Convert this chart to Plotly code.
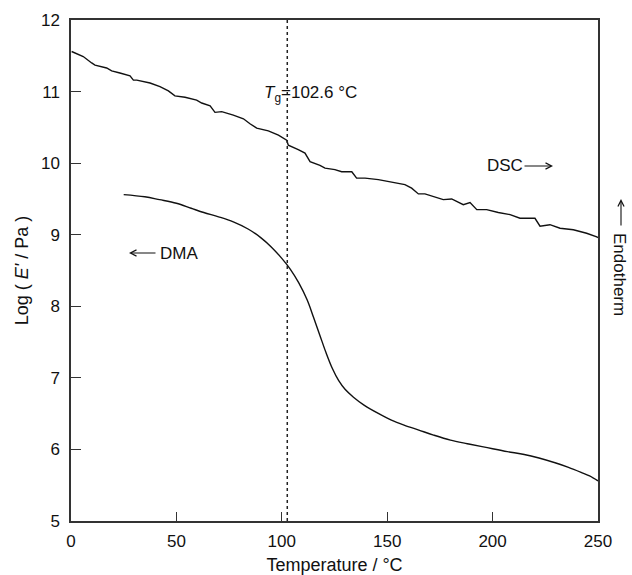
import plotly.graph_objects as go

# DSC trace (temperature in °C, signal plotted on the same vertical scale)
dsc_T = [0.3, 5.8, 9.8, 11.4, 16.9, 19.3, 23.2, 28.0, 29.6, 31.2, 37.5, 42.2, 46.2, 49.3,
         54.1, 59.6, 62.0, 66.0, 68.3, 71.5, 77.0, 81.8, 84.9, 88.1, 93.6, 98.4, 102.3,
         103.1, 107.8, 111.0, 113.4, 118.1, 120.5, 125.2, 128.4, 133.2, 135.5, 139.5,
         145.8, 152.1, 158.4, 161.6, 164.8, 167.9, 171.9, 176.6, 180.6, 186.1, 189.3,
         192.5, 197.2, 202.7, 208.3, 213.0, 220.1, 222.5, 227.2, 232.0, 238.3, 244.6, 249.4, 250.0]
dsc_v = [11.56, 11.49, 11.40, 11.37, 11.33, 11.29, 11.26, 11.22, 11.16, 11.16, 11.12, 11.07,
         11.01, 10.94, 10.92, 10.88, 10.84, 10.80, 10.71, 10.72, 10.67, 10.62, 10.55, 10.49,
         10.45, 10.39, 10.32, 10.25, 10.19, 10.14, 10.02, 9.97, 9.93, 9.91, 9.88, 9.88, 9.79,
         9.79, 9.77, 9.73, 9.70, 9.65, 9.57, 9.57, 9.53, 9.49, 9.50, 9.42, 9.45, 9.35, 9.35,
         9.31, 9.28, 9.23, 9.23, 9.12, 9.14, 9.09, 9.07, 9.02, 8.97, 8.96]

# DMA storage modulus, log(E'/Pa)
dma_T = [25, 35, 42, 50, 57, 63, 70, 77, 84, 90, 95, 100, 104, 108, 112, 115, 118, 121, 124,
         127, 130, 134, 139, 146, 152, 158, 165, 172, 180, 188, 195, 200, 207, 215, 222, 230,
         236, 242, 246, 250]
dma_v = [9.56, 9.53, 9.49, 9.44, 9.37, 9.31, 9.25, 9.18, 9.08, 8.96, 8.83, 8.67, 8.52, 8.33,
         8.09, 7.85, 7.60, 7.35, 7.13, 6.96, 6.84, 6.73, 6.62, 6.50, 6.41, 6.34, 6.27, 6.20,
         6.13, 6.08, 6.04, 6.01, 5.97, 5.93, 5.88, 5.81, 5.75, 5.68, 5.63, 5.56]

tg = 102.6
x_ticks = [0, 50, 100, 150, 200, 250]
y_ticks = [5, 6, 7, 8, 9, 10, 11, 12]

FONT = "Liberation Sans, Arial, sans-serif"
L, R, T, B = 71, 34, 20, 54
W, H = 632, 575
PW, PH = W - L - R, H - T - B


def px(xp):
    return (xp - L) / PW


def py(yp):
    return 1 - (yp - T) / PH


fig = go.Figure()
fig.add_trace(go.Scatter(x=dsc_T, y=dsc_v, mode="lines",
                         line=dict(color="#111111", width=1.4), showlegend=False))
fig.add_trace(go.Scatter(x=dma_T, y=dma_v, mode="lines", line_shape="spline",
                         line=dict(color="#111111", width=1.4), showlegend=False))

fig.add_shape(type="line", x0=tg, x1=tg, y0=5, y1=12, xref="x", yref="y",
              line=dict(color="#222222", width=1.5, dash="dot"))

txt = dict(size=17, color="#111111")
arrow = dict(showarrow=True, arrowhead=5, arrowsize=1.1, arrowwidth=1.1,
             arrowcolor="#111111", text="", xref="paper", yref="paper")
# T_g label
fig.add_annotation(x=px(262), y=py(94), xref="paper", yref="paper", showarrow=False,
                   xanchor="left", yanchor="middle",
                   text="<i>T</i><sub>g</sub>=102.6 °C", font=txt)
# DSC label with arrow pointing right
fig.add_annotation(x=px(485), y=py(166), xref="paper", yref="paper", showarrow=False,
                   xanchor="left", yanchor="middle", text="DSC", font=txt)
fig.add_annotation(x=px(553), y=py(166), ax=-30, ay=0, **arrow)
# DMA label with arrow pointing left
fig.add_annotation(x=px(158), y=py(253), xref="paper", yref="paper", showarrow=False,
                   xanchor="left", yanchor="middle", text="DMA", font=txt)
fig.add_annotation(x=px(129), y=py(253), ax=28, ay=0, **arrow)
# Endotherm label with upward arrow
fig.add_annotation(x=px(620), y=py(274), xref="paper", yref="paper", showarrow=False,
                   xanchor="center", yanchor="middle", textangle=90,
                   text="Endotherm", font=txt)
fig.add_annotation(x=px(621), y=py(199), ax=0, ay=28, **arrow)

fig.update_layout(
    width=W, height=H,
    margin=dict(l=L, r=R, t=T, b=B),
    paper_bgcolor="white", plot_bgcolor="white",
    font=dict(family=FONT, size=17, color="#111111"),
    xaxis=dict(range=[0, 250], tickvals=x_ticks, ticks="inside", ticklen=9, tickwidth=1.3,
               tickcolor="#333", showline=True, linecolor="#333", linewidth=1.5, mirror=True,
               showgrid=False, zeroline=False, ticklabelstandoff=4, automargin=False,
               title=dict(text="Temperature / °C", font=dict(size=18), standoff=10)),
    yaxis=dict(range=[5, 12], tickvals=y_ticks, ticks="inside", ticklen=10, tickwidth=1.3,
               tickcolor="#333", showline=True, linecolor="#333", linewidth=1.5, mirror=True,
               showgrid=False, zeroline=False, ticklabelstandoff=6, automargin=False,
               title=dict(text="Log ( <i>E'</i> / Pa )", font=dict(size=18), standoff=8)),
)

fig.write_html("out.html")
